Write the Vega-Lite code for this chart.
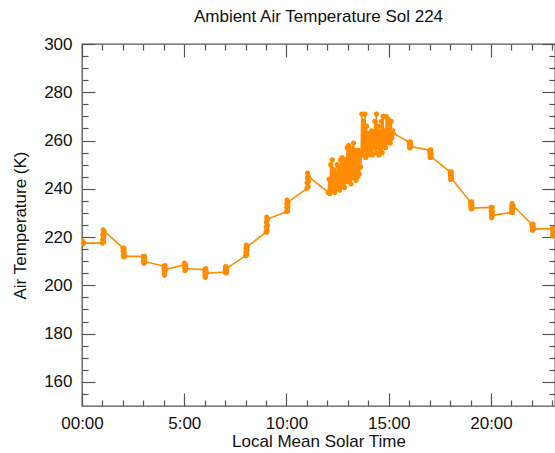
{
  "$schema": "https://vega.github.io/schema/vega-lite/v6.json",
  "width": 473,
  "height": 362,
  "autosize": {"type": "none"},
  "padding": {"left": 82, "top": 44, "right": 0, "bottom": 47},
  "background": "white",
  "title": {"text": "Ambient Air Temperature Sol 224", "font": "Liberation Sans", "fontSize": 17, "fontWeight": "normal", "color": "#111", "anchor": "middle", "offset": 9},
  "config": {
    "view": {"stroke": "#555", "strokeWidth": 1.3},
    "axis": {"grid": false, "domain": false, "labelFont": "Liberation Sans", "labelFontSize": 17, "labelColor": "#111", "titleFont": "Liberation Sans", "titleFontSize": 17, "titleFontWeight": "normal", "titleColor": "#111", "tickColor": "#555", "tickWidth": 1.2, "labelFlush": false}
  },
  "data": {"values": [
    {"t": 0.00, "T": 218.5}, {"t": 0.02, "T": 217}, {"t": 0.04, "T": 218}, {"t": 0.06, "T": 217.5}, {"t": 0.08, "T": 217.5},
    {"t": 1.00, "T": 217.5}, {"t": 1.01, "T": 219}, {"t": 1.02, "T": 221}, {"t": 1.03, "T": 223}, {"t": 1.04, "T": 221.5}, {"t": 1.05, "T": 219.5}, {"t": 1.06, "T": 218}, {"t": 1.07, "T": 220.5}, {"t": 1.08, "T": 222.5},
    {"t": 2.00, "T": 215.5}, {"t": 2.01, "T": 214}, {"t": 2.02, "T": 212.5}, {"t": 2.03, "T": 211.8}, {"t": 2.04, "T": 213}, {"t": 2.05, "T": 214.5}, {"t": 2.06, "T": 215.3}, {"t": 2.07, "T": 213.5}, {"t": 2.08, "T": 212},
    {"t": 3.00, "T": 212}, {"t": 3.01, "T": 211}, {"t": 3.02, "T": 210}, {"t": 3.03, "T": 209.2}, {"t": 3.04, "T": 210}, {"t": 3.05, "T": 211}, {"t": 3.06, "T": 212}, {"t": 3.07, "T": 210.8}, {"t": 3.08, "T": 209.8},
    {"t": 4.00, "T": 208}, {"t": 4.01, "T": 206.5}, {"t": 4.02, "T": 205}, {"t": 4.03, "T": 204.2}, {"t": 4.04, "T": 205.5}, {"t": 4.05, "T": 207}, {"t": 4.06, "T": 208.2}, {"t": 4.07, "T": 206.8}, {"t": 4.08, "T": 206.5},
    {"t": 5.00, "T": 208.5}, {"t": 5.01, "T": 209.2}, {"t": 5.02, "T": 208}, {"t": 5.03, "T": 206.8}, {"t": 5.04, "T": 206.1}, {"t": 5.05, "T": 207.2}, {"t": 5.06, "T": 208.5}, {"t": 5.07, "T": 207.8}, {"t": 5.08, "T": 207},
    {"t": 6.00, "T": 206.5}, {"t": 6.01, "T": 205.2}, {"t": 6.02, "T": 204}, {"t": 6.03, "T": 203.3}, {"t": 6.04, "T": 204.5}, {"t": 6.05, "T": 205.8}, {"t": 6.06, "T": 206.8}, {"t": 6.07, "T": 205.5}, {"t": 6.08, "T": 205},
    {"t": 7.00, "T": 205.5}, {"t": 7.01, "T": 206.5}, {"t": 7.02, "T": 207.5}, {"t": 7.03, "T": 207.8}, {"t": 7.04, "T": 206.8}, {"t": 7.05, "T": 205.7}, {"t": 7.06, "T": 205.1}, {"t": 7.07, "T": 206.3}, {"t": 7.08, "T": 207},
    {"t": 8.00, "T": 212.3}, {"t": 8.01, "T": 213.8}, {"t": 8.02, "T": 215.3}, {"t": 8.03, "T": 216.7}, {"t": 8.04, "T": 215.5}, {"t": 8.05, "T": 214}, {"t": 8.06, "T": 212.8}, {"t": 8.07, "T": 214.5}, {"t": 8.08, "T": 216},
    {"t": 9.00, "T": 222}, {"t": 9.01, "T": 224}, {"t": 9.02, "T": 226}, {"t": 9.03, "T": 228.3}, {"t": 9.04, "T": 226.8}, {"t": 9.05, "T": 224.5}, {"t": 9.06, "T": 222.5}, {"t": 9.07, "T": 225}, {"t": 9.08, "T": 227.5},
    {"t": 10.00, "T": 230.5}, {"t": 10.01, "T": 232.2}, {"t": 10.02, "T": 233.8}, {"t": 10.03, "T": 235.3}, {"t": 10.04, "T": 234}, {"t": 10.05, "T": 232.3}, {"t": 10.06, "T": 230.8}, {"t": 10.07, "T": 232.8}, {"t": 10.08, "T": 234.5},
    {"t": 11.00, "T": 240.2}, {"t": 11.01, "T": 242.5}, {"t": 11.02, "T": 244.5}, {"t": 11.03, "T": 246.5}, {"t": 11.04, "T": 245}, {"t": 11.05, "T": 243}, {"t": 11.06, "T": 241}, {"t": 11.07, "T": 243}, {"t": 11.08, "T": 245},
    {"t": 12.04, "T": 238.5}, {"t": 12.08, "T": 244}, {"t": 12.12, "T": 238}, {"t": 12.16, "T": 250}, {"t": 12.20, "T": 239},
    {"t": 12.24, "T": 252}, {"t": 12.28, "T": 240}, {"t": 12.32, "T": 248}, {"t": 12.36, "T": 238.5}, {"t": 12.40, "T": 246},
    {"t": 12.44, "T": 240}, {"t": 12.48, "T": 250}, {"t": 12.52, "T": 241}, {"t": 12.56, "T": 249}, {"t": 12.60, "T": 239.5},
    {"t": 12.64, "T": 252}, {"t": 12.68, "T": 241}, {"t": 12.72, "T": 253}, {"t": 12.76, "T": 242}, {"t": 12.80, "T": 250},
    {"t": 12.84, "T": 240.5}, {"t": 12.88, "T": 252}, {"t": 12.92, "T": 243}, {"t": 12.96, "T": 257}, {"t": 13.00, "T": 244},
    {"t": 13.04, "T": 258}, {"t": 13.08, "T": 243}, {"t": 13.12, "T": 255}, {"t": 13.16, "T": 242}, {"t": 13.20, "T": 257},
    {"t": 13.24, "T": 244.5}, {"t": 13.28, "T": 259}, {"t": 13.32, "T": 245}, {"t": 13.36, "T": 256}, {"t": 13.40, "T": 243.5},
    {"t": 13.44, "T": 254}, {"t": 13.48, "T": 245}, {"t": 13.52, "T": 256}, {"t": 13.56, "T": 246}, {"t": 13.60, "T": 255},
    {"t": 13.64, "T": 249}, {"t": 13.68, "T": 271}, {"t": 13.72, "T": 254}, {"t": 13.76, "T": 268}, {"t": 13.80, "T": 256},
    {"t": 13.84, "T": 271}, {"t": 13.88, "T": 253}, {"t": 13.92, "T": 266}, {"t": 13.96, "T": 255}, {"t": 14.00, "T": 263},
    {"t": 14.04, "T": 254}, {"t": 14.08, "T": 262}, {"t": 14.12, "T": 256}, {"t": 14.16, "T": 264}, {"t": 14.20, "T": 254},
    {"t": 14.24, "T": 263}, {"t": 14.28, "T": 257}, {"t": 14.32, "T": 268}, {"t": 14.36, "T": 255}, {"t": 14.40, "T": 271},
    {"t": 14.44, "T": 257}, {"t": 14.48, "T": 266}, {"t": 14.52, "T": 254}, {"t": 14.56, "T": 264}, {"t": 14.60, "T": 256},
    {"t": 14.64, "T": 268}, {"t": 14.68, "T": 255}, {"t": 14.72, "T": 270}, {"t": 14.76, "T": 258}, {"t": 14.80, "T": 264},
    {"t": 14.84, "T": 257}, {"t": 14.88, "T": 270}, {"t": 14.92, "T": 259}, {"t": 14.96, "T": 269}, {"t": 15.00, "T": 260},
    {"t": 15.04, "T": 267}, {"t": 15.08, "T": 259}, {"t": 15.12, "T": 268}, {"t": 15.16, "T": 261}, {"t": 15.20, "T": 264},
    {"t": 15.22, "T": 263},
    {"t": 16.00, "T": 259.3}, {"t": 16.01, "T": 258.2}, {"t": 16.02, "T": 257.2}, {"t": 16.03, "T": 256.9}, {"t": 16.04, "T": 257.8}, {"t": 16.05, "T": 258.8}, {"t": 16.06, "T": 259.5}, {"t": 16.07, "T": 258.4}, {"t": 16.08, "T": 257.5},
    {"t": 17.00, "T": 256}, {"t": 17.01, "T": 255}, {"t": 17.02, "T": 254}, {"t": 17.03, "T": 253}, {"t": 17.04, "T": 253.8}, {"t": 17.05, "T": 255}, {"t": 17.06, "T": 256.2}, {"t": 17.07, "T": 254.5}, {"t": 17.08, "T": 253.2},
    {"t": 18.00, "T": 247}, {"t": 18.01, "T": 246}, {"t": 18.02, "T": 245}, {"t": 18.03, "T": 243.9}, {"t": 18.04, "T": 244.8}, {"t": 18.05, "T": 246}, {"t": 18.06, "T": 247}, {"t": 18.07, "T": 245.5}, {"t": 18.08, "T": 244.2},
    {"t": 19.00, "T": 234.5}, {"t": 19.01, "T": 233.5}, {"t": 19.02, "T": 232.5}, {"t": 19.03, "T": 231.6}, {"t": 19.04, "T": 232.4}, {"t": 19.05, "T": 233.6}, {"t": 19.06, "T": 234.6}, {"t": 19.07, "T": 233.2}, {"t": 19.08, "T": 232},
    {"t": 20.00, "T": 232.3}, {"t": 20.01, "T": 230.8}, {"t": 20.02, "T": 229.3}, {"t": 20.03, "T": 228}, {"t": 20.04, "T": 229.2}, {"t": 20.05, "T": 230.8}, {"t": 20.06, "T": 232.3}, {"t": 20.07, "T": 230.5}, {"t": 20.08, "T": 229},
    {"t": 21.00, "T": 230.2}, {"t": 21.01, "T": 231.5}, {"t": 21.02, "T": 232.8}, {"t": 21.03, "T": 233.9}, {"t": 21.04, "T": 232.8}, {"t": 21.05, "T": 231.4}, {"t": 21.06, "T": 230.2}, {"t": 21.07, "T": 231.8}, {"t": 21.08, "T": 233},
    {"t": 22.00, "T": 225.3}, {"t": 22.01, "T": 224.4}, {"t": 22.02, "T": 223.5}, {"t": 22.03, "T": 222.8}, {"t": 22.04, "T": 223.6}, {"t": 22.05, "T": 224.6}, {"t": 22.06, "T": 225.4}, {"t": 22.07, "T": 224.2}, {"t": 22.08, "T": 223.3},
    {"t": 23.00, "T": 223.5}, {"t": 23.01, "T": 222.5}, {"t": 23.02, "T": 221.3}, {"t": 23.03, "T": 220.4}, {"t": 23.04, "T": 221.4}, {"t": 23.05, "T": 222.6}, {"t": 23.06, "T": 223.6}, {"t": 23.07, "T": 222.4}, {"t": 23.08, "T": 221.5}
  ]},
  "resolve": {"axis": {"x": "independent", "y": "independent"}},
  "layer": [
    {
      "mark": {"type": "line", "color": "#FF8C00", "strokeWidth": 1.6, "clip": true},
      "encoding": {
        "x": {"field": "t", "type": "quantitative", "scale": {"domain": [0, 23.13], "nice": false, "zero": false},
              "axis": {"orient": "bottom", "values": [0, 5, 10, 15, 20], "ticks": false, "labelPadding": 9, "labelExpr": "datum.value == 0 ? '00:00' : datum.value + ':00'", "title": "Local Mean Solar Time", "titlePadding": 2}},
        "y": {"field": "T", "type": "quantitative", "scale": {"domain": [150, 300], "nice": false, "zero": false},
              "axis": {"orient": "left", "values": [160, 180, 200, 220, 240, 260, 280, 300], "ticks": false, "labelPadding": 10, "title": "Air Temperature (K)", "titlePadding": 14}}
      }
    },
    {
      "mark": {"type": "circle", "color": "#FF8C00", "size": 26, "opacity": 1, "clip": true},
      "encoding": {
        "x": {"field": "t", "type": "quantitative", "axis": {"orient": "bottom", "values": [0, 5, 10, 15, 20], "tickSize": -13, "labels": false, "title": null}},
        "y": {"field": "T", "type": "quantitative", "axis": {"orient": "left", "values": [160, 180, 200, 220, 240, 260, 280, 300], "tickSize": -13, "labels": false, "title": null}}
      }
    },
    {
      "mark": {"type": "point", "opacity": 0},
      "encoding": {
        "x": {"field": "t", "type": "quantitative", "axis": {"orient": "bottom", "values": [1,2,3,4,6,7,8,9,11,12,13,14,16,17,18,19,21,22,23], "tickSize": -6, "labels": false, "title": null}},
        "y": {"field": "T", "type": "quantitative", "axis": {"orient": "left", "values": [155,165,170,175,185,190,195,205,210,215,225,230,235,245,250,255,265,270,275,285,290,295], "tickSize": -6, "labels": false, "title": null}}
      }
    },
    {
      "mark": {"type": "point", "opacity": 0},
      "encoding": {
        "x": {"field": "t", "type": "quantitative", "axis": {"orient": "top", "values": [0, 5, 10, 15, 20], "tickSize": -13, "labels": false, "title": null}},
        "y": {"field": "T", "type": "quantitative", "axis": {"orient": "right", "values": [160, 180, 200, 220, 240, 260, 280, 300], "tickSize": -13, "labels": false, "title": null}}
      }
    },
    {
      "mark": {"type": "point", "opacity": 0},
      "encoding": {
        "x": {"field": "t", "type": "quantitative", "axis": {"orient": "top", "values": [1,2,3,4,6,7,8,9,11,12,13,14,16,17,18,19,21,22,23], "tickSize": -6, "labels": false, "title": null}},
        "y": {"field": "T", "type": "quantitative", "axis": {"orient": "right", "values": [155,165,170,175,185,190,195,205,210,215,225,230,235,245,250,255,265,270,275,285,290,295], "tickSize": -6, "labels": false, "title": null}}
      }
    }
  ]
}
